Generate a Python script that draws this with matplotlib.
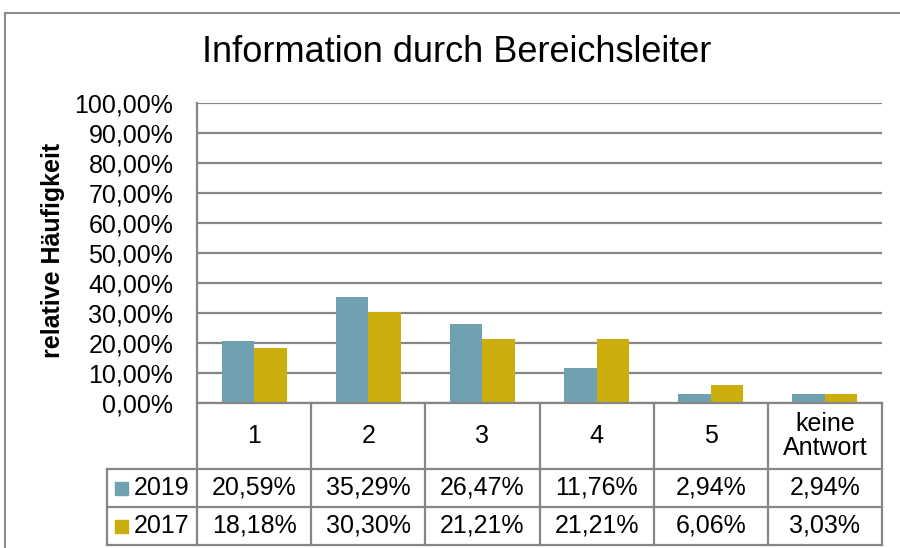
import numpy as np
import matplotlib
matplotlib.use("Agg")
import matplotlib.pyplot as plt
from matplotlib.transforms import blended_transform_factory
from matplotlib.patches import Rectangle
from matplotlib.lines import Line2D

plt.rcParams['font.family'] = ['Liberation Sans', 'DejaVu Sans']

# Daten
kategorien = ["1", "2", "3", "4", "5", "keine\nAntwort"]
jahre = ["2019", "2017"]
werte_2019 = [20.59, 35.29, 26.47, 11.76, 2.94, 2.94]
werte_2017 = [18.18, 30.30, 21.21, 21.21, 6.06, 3.03]
farben = ["#6fa1b0", "#cbae0b"]

grau = "#868686"


def prozent(v):
    return f"{v:.2f}%".replace(".", ",")


fig = plt.figure(figsize=(9, 5.48), dpi=100)
ax = fig.add_axes([197 / 900, 1 - 403 / 548, 685 / 900, 300 / 548])

x = np.arange(len(kategorien))
breite = 0.285
ax.bar(x - breite / 2, werte_2019, width=breite, color=farben[0], zorder=3)
ax.bar(x + breite / 2, werte_2017, width=breite, color=farben[1], zorder=3)

ax.set_xlim(-0.5, len(kategorien) - 0.5)
ax.set_ylim(0, 100)
ax.set_yticks(np.arange(0, 101, 10))
ax.set_yticklabels([prozent(t) for t in np.arange(0, 101, 10)], fontsize=18)
ax.tick_params(axis="y", length=0, pad=17)
ax.set_xticks([])
ax.yaxis.grid(True, color=grau, linewidth=1.6, zorder=0)

for s in ["top", "right", "bottom"]:
    ax.spines[s].set_visible(False)
ax.spines["left"].set_color(grau)
ax.spines["left"].set_linewidth(1.6)

ax.set_ylabel("relative Häufigkeit", fontsize=18, fontweight="bold")
ax.yaxis.set_label_coords(-0.192, 0.51)

fig.text(457 / 900, 1 - 53 / 548, "Information durch Bereichsleiter",
         fontsize=26, ha="center", va="center")

# Datentabelle unter der Achse
tr = blended_transform_factory(ax.transData, ax.transAxes)
y_kat = -66 / 300
y_r1 = -104 / 300
y_r2 = -142 / 300
px = 685 / 6
x_leg = -0.5 - 90 / px
x_rechts = len(kategorien) - 0.5


def linie(xs, ys):
    ax.add_line(Line2D(xs, ys, transform=tr, color=grau, linewidth=1.6,
                       clip_on=False, zorder=4))


linie([-0.5, x_rechts], [0, 0])
for y in [y_kat, y_r1, y_r2]:
    linie([x_leg, x_rechts], [y, y])
for i in range(len(kategorien) + 1):
    linie([i - 0.5, i - 0.5], [0, y_r2])
linie([x_leg, x_leg], [y_kat, y_r2])

for i, k in enumerate(kategorien):
    ax.text(i, -33 / 300, k, transform=tr, ha="center", va="center",
            fontsize=18, linespacing=1.05)

for r, (jahr, werte, farbe) in enumerate(zip(jahre, [werte_2019, werte_2017], farben)):
    yc = (y_kat + y_r1) / 2 if r == 0 else (y_r1 + y_r2) / 2
    ax.add_patch(Rectangle((-0.5 - 82 / px, yc - 6.5 / 300), 13 / px, 13 / 300,
                           transform=tr, color=farbe, clip_on=False))
    ax.text(-0.5 - 63 / px, yc, jahr, transform=tr, ha="left", va="center",
            fontsize=18)
    for i, v in enumerate(werte):
        ax.text(i, yc, prozent(v), transform=tr, ha="center", va="center",
                fontsize=18)

# Rahmen des Diagrammbereichs
fig.add_artist(Line2D([5 / 900, 1], [1 - 12.5 / 548, 1 - 12.5 / 548],
                      color="#8c8c8c", linewidth=1.5))
fig.add_artist(Line2D([5 / 900, 5 / 900], [0, 1 - 12.5 / 548],
                      color="#8c8c8c", linewidth=1.5))

fig.savefig("out.png", dpi=100)
